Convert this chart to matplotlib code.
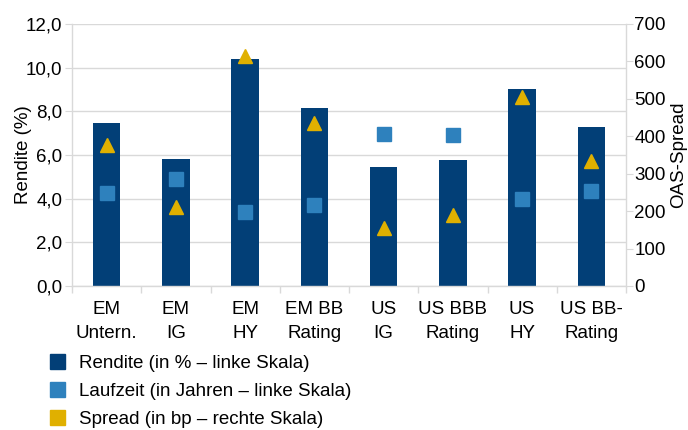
import matplotlib.pyplot as plt
from matplotlib.patches import Patch
import numpy as np

plt.rcParams['font.family'] = ['Liberation Sans', 'DejaVu Sans']

categories = ["EM\nUntern.", "EM\nIG", "EM\nHY", "EM BB\nRating",
              "US\nIG", "US BBB\nRating", "US\nHY", "US BB-\nRating"]
rendite = [7.45, 5.83, 10.38, 8.15, 5.44, 5.76, 9.01, 7.28]
laufzeit = [4.25, 4.89, 3.38, 3.70, 6.95, 6.90, 3.97, 4.34]
spread = [377, 212, 615, 435, 154, 190, 504, 334]

NAVY = "#023f77"
BLUE = "#2e81bd"
GOLD = "#e0b000"
GRID = "#d9d9d9"

fig = plt.figure(figsize=(6.88, 4.30), dpi=100)
ax = fig.add_axes([72 / 688, 1 - 286 / 430, (626 - 72) / 688, (286 - 24) / 430])
ax2 = ax.twinx()

x = np.arange(len(categories))
ax.bar(x, rendite, width=0.4, color=NAVY, zorder=2)
ax.plot(x, laufzeit, linestyle="none", marker="s", markersize=10.5,
        color=BLUE, zorder=3)
ax2.plot(x, spread, linestyle="none", marker="^", markersize=10,
         color=GOLD, zorder=3)
ax2.set_zorder(ax.get_zorder() + 1)
ax2.patch.set_visible(False)

ax.set_xlim(-0.5, len(categories) - 0.5)
ax.set_ylim(0, 12)
ax2.set_ylim(0, 700)
ax.set_yticks(np.arange(0, 12.1, 2))
ax.set_yticklabels([f"{v:.1f}".replace(".", ",") for v in np.arange(0, 12.1, 2)])
ax2.set_yticks(np.arange(0, 701, 100))

ax.grid(axis="y", color=GRID, linewidth=1, zorder=0)
ax.set_axisbelow(True)

# category boundaries as tick marks, labels in the middle
ax.set_xticks(np.arange(-0.5, len(categories), 1))
ax.set_xticklabels([])
ax.set_xticks(x, minor=True)
ax.set_xticklabels(categories, minor=True, fontsize=13.5, linespacing=1.5)
ax.tick_params(axis="x", which="minor", length=0, pad=11)
ax.tick_params(axis="x", which="major", length=5, color=GRID, width=1)

ax.tick_params(axis="y", length=5, color=GRID, labelsize=13.5, pad=2)
ax2.tick_params(axis="y", length=5, color=GRID, labelsize=13.5, pad=1)

for a in (ax, ax2):
    for s in a.spines.values():
        s.set_visible(False)
ax.spines["left"].set_visible(True)
ax.spines["bottom"].set_visible(True)
ax2.spines["right"].set_visible(True)
for s in (ax.spines["left"], ax.spines["bottom"], ax2.spines["right"]):
    s.set_color(GRID)
    s.set_linewidth(1)

ax.set_ylabel("Rendite (%)", fontsize=13.5)
ax.yaxis.set_label_coords(-0.072, 0.5)
ax2.set_ylabel("OAS-Spread", fontsize=13.5, labelpad=3)

handles = [Patch(color=NAVY), Patch(color=BLUE), Patch(color=GOLD)]
labels = ["Rendite (in % – linke Skala)", "Laufzeit (in Jahren – linke Skala)",
          "Spread (in bp – rechte Skala)"]
fig.legend(handles, labels, loc="upper left", bbox_to_anchor=(0.072, 0.177),
           frameon=False, fontsize=13.5, handlelength=0.85, handleheight=0.85,
           handletextpad=0.7, labelspacing=0.55, borderaxespad=0,
           borderpad=0)

fig.savefig("out.png", dpi=100)
